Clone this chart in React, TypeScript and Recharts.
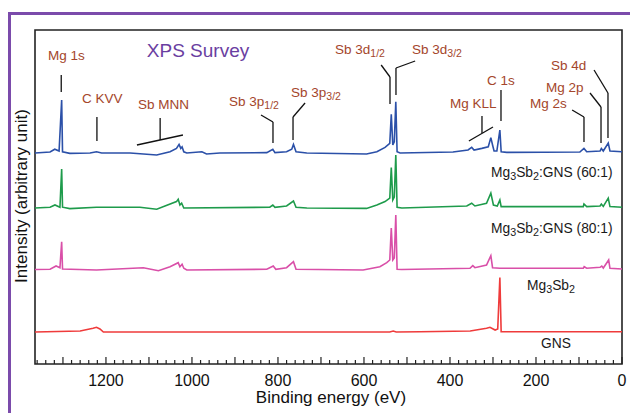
import React from "react";
import {
  LineChart,
  Line,
  XAxis,
  YAxis,
  ReferenceArea,
  ReferenceLine,
} from "recharts";

// binding energy (eV), intensity above each trace's own baseline (arb. units)
const mg3sb2Gns60: [number, number][] = [
  [1365, 0], [1330, 0.5], [1319, 1.9], [1309, 1], [1303, 26.5], [1301, 0.6], [1284, -0.2],
  [1237, 0], [1222, 0.6], [1210, 0], [1144, 0], [1082, -1], [1051, 0.6], [1036, 2.3],
  [1030, 4.3], [1026, 2.3], [1023, 3.1], [1019, 0.6], [1012, 0], [977, 0.6], [966, -0.5],
  [935, 0], [826, 0.2], [812, 1.9], [807, 0.2], [780, 0.6], [768, 1.9], [764, 4.3],
  [758, 0.6], [733, 0], [594, -0.5], [570, 0.6], [551, 2.8], [540, 4.8], [536.5, 19.3],
  [533, 4], [529.5, 5.6], [526, 25.6], [523, 0.6], [516, 0], [393, 0.5], [358, 1.5],
  [349.5, 2.8], [344, 1.5], [326, 2.3], [311, 3.1], [305, 7.7], [301, 4], [297.5, 1],
  [291, 1], [284, 11.5], [281, 0.6], [268, 0.3], [98, 0.5], [88.5, 2.3], [82, 0.6],
  [51, 1], [48, 2.3], [43.5, 1], [32, 5], [28, 1], [0, 0.6],
];

const mg3sb2Gns80: [number, number][] = [
  [1365, 0], [1330, 0.4], [1318.6, 1.5], [1307, 0.4], [1303, 19.5], [1301, 0.4], [1284, -0.3],
  [1222, 0.4], [1121, 0.4], [1082, -0.6], [1036, 3.2], [1032, 4.4], [1028, 1.5], [1024, 2.4],
  [1019, 0], [819, 0.4], [812, 1.5], [807, 0.3], [780, 1], [764, 3.5], [758, 0.4], [733, 0],
  [594, -0.2], [570, 1.5], [551, 3.2], [540, 4.9], [536.5, 20.2], [533, 4], [529.5, 5.5],
  [526, 26.5], [523, 0.4], [512, 0], [361, 1], [349.5, 2.4], [342, 1], [315, 2.4], [305, 7.4],
  [299, 1.5], [290, 1], [284, 4], [281, 0.7], [90, 0.7], [88.5, 2], [82, 0.7], [51, 1],
  [48, 2], [43.5, 0.8], [32, 4.9], [28, 0.7], [0, 0.4],
];

const mg3sb2: [number, number][] = [
  [1365, 0], [1330, 0.1], [1316, 1.75], [1307, 0.9], [1303, 13.9], [1301, 0.25], [1222, -0.25],
  [1113, 0.9], [1078, -0.6], [1051, 1.4], [1032, 3.4], [1028, 1.4], [1023, 2.6], [1019, 0.6],
  [1012, -0.25], [826, 0.1], [811, 1.75], [805, 0.1], [780, 0.9], [764, 3.9], [758, 0.1],
  [602, -0.25], [563, 1.4], [547, 3.4], [540, 4.75], [536.5, 20.75], [533, 4.75],
  [529.5, 5.75], [526, 27.25], [523, 0.1], [512, 0], [353.5, 0.6], [347, 1.9], [342, 0.9],
  [315, 2.25], [305, 6.9], [301, 0.9], [284, 0.6], [90, 0.6], [88, 1.4], [82, 0.6],
  [51, 1.1], [47, 1.75], [43.5, 0.75], [31, 4.75], [28, 0.6], [0, 0.25],
];

const gns: [number, number][] = [
  [1365, 0], [1260, 0.5], [1230, 1.85], [1222, 2.35], [1214, 1.5], [1206, 0], [540, 0],
  [532, 0.5], [525, 0], [470, 0.15], [353, 0.5], [315, 1.85], [307, 2.35], [295, 1],
  [289, 1.5], [284, 27.25], [281, 0.15], [0, 0.15],
];

// vertical offsets used to stack the traces
const offsets = { gns60: 105.5, gns80: 78, mg3sb2: 47.25, gns: 16 };

// leader lines for the peak labels: [energy, intensity] vertices
const leaders: [number, number][][] = [
  [[1304, 144.5], [1304, 136]],
  [[1221, 123.5], [1221, 111.5]],
  [[1074, 123], [1074, 112]],
  [[1128, 109.5], [1021, 114.5]],
  [[839.5, 124.5], [811.6, 121], [811.6, 110.5]],
  [[737, 130.5], [765, 123.5], [765, 112]],
  [[560, 149.5], [539.5, 143.5], [539.5, 130]],
  [[481, 151.5], [525.6, 148], [525.6, 134.5]],
  [[281.4, 137], [281.4, 121.5]],
  [[325.6, 124], [325.6, 115.5]],
  [[356, 111.5], [300, 118.5]],
  [[116, 127], [88.4, 123.5], [88.4, 111]],
  [[74.4, 135.5], [48.8, 128.5], [48.8, 110.5]],
  [[65, 147], [32.6, 135.5], [32.6, 113]],
];

const energyTicks: number[] = [];
for (let e = 0; e <= 1360; e += 20) energyTicks.push(e);

const FONT = '"Liberation Sans", Arial, sans-serif';
const PEAK = "#a4462b";

type Part = string | { sub: string };

function toRows(points: [number, number][], offset: number) {
  return points.map(([e, v]) => ({ e, v: v + offset }));
}

function rich(parts: Part[]) {
  let lowered = false;
  return parts.map((p, i) => {
    if (typeof p === "string") {
      const dy = lowered ? -3 : 0;
      lowered = false;
      return <tspan key={i} dy={dy}>{p}</tspan>;
    }
    lowered = true;
    return <tspan key={i} dy={3} fontSize="0.78em">{p.sub}</tspan>;
  });
}

function EnergyTick(props: any) {
  const { x, y, payload } = props;
  const v = payload.value as number;
  const major = v % 100 === 0;
  return (
    <g>
      <line x1={x} x2={x} y1={y} y2={y - (major ? 7 : 4)} stroke="#222" strokeWidth={1.2} />
      {v % 200 === 0 && (
        <text x={x} y={y + 22} textAnchor="middle" fontSize={16} fill="#111" fontFamily={FONT}>
          {v}
        </text>
      )}
    </g>
  );
}

export default function App() {
  const series = [
    { name: "gns60", data: toRows(mg3sb2Gns60, offsets.gns60), color: "#2b50a8" },
    { name: "gns80", data: toRows(mg3sb2Gns80, offsets.gns80), color: "#1e9b4b" },
    { name: "mg3sb2", data: toRows(mg3sb2, offsets.mg3sb2), color: "#d94fa8" },
    { name: "gns", data: toRows(gns, offsets.gns), color: "#ef3b3b" },
  ];

  return (
    <div style={{ position: "absolute", left: 0, top: 0, width: 630, height: 413, background: "#fff", overflow: "hidden" }}>
      <LineChart width={630} height={413} margin={{ top: 30, right: 8, bottom: 19, left: 35 }}>
        <XAxis
          dataKey="e"
          type="number"
          domain={[0, 1365]}
          reversed
          ticks={energyTicks}
          interval={0}
          tick={<EnergyTick />}
          tickLine={false}
          tickSize={0}
          tickMargin={0}
          axisLine={false}
          height={30}
          allowDataOverflow
        />
        <YAxis type="number" domain={[0, 167]} hide allowDataOverflow />
        <ReferenceArea x1={0} x2={1365} y1={0} y2={167} fill="none" stroke="#222" strokeWidth={1.6} strokeOpacity={1} />
        {leaders.flatMap((pts, i) =>
          pts.slice(1).map((p, j) => (
            <ReferenceLine
              key={`l${i}-${j}`}
              segment={[{ x: pts[j][0], y: pts[j][1] }, { x: p[0], y: p[1] }]}
              stroke="#111"
              strokeWidth={1.3}
              ifOverflow="visible"
            />
          ))
        )}
        {series.map((s) => (
          <Line
            key={s.name}
            data={s.data}
            dataKey="v"
            type="linear"
            stroke={s.color}
            strokeWidth={1.6}
            dot={false}
            isAnimationActive={false}
          />
        ))}
      </LineChart>

      <div style={{ position: "absolute", left: 8, top: 12, width: 630, height: 420, border: "3px solid #7b4bab", boxSizing: "border-box", pointerEvents: "none" }} />

      <svg width={630} height={413} style={{ position: "absolute", left: 0, top: 0, pointerEvents: "none" }} fontFamily={FONT}>
        <text x={198} y={57} textAnchor="middle" fontSize={19} fill="#6a3ea1">XPS Survey</text>

        <g fontSize={13.5} fill={PEAK}>
          <text x={48} y={60}>Mg 1s</text>
          <text x={82} y={102.5}>C KVV</text>
          <text x={138} y={109}>Sb MNN</text>
          <text x={229} y={106}>{rich(["Sb 3p", { sub: "1/2" }])}</text>
          <text x={291} y={96.5}>{rich(["Sb 3p", { sub: "3/2" }])}</text>
          <text x={335} y={54}>{rich(["Sb 3d", { sub: "1/2" }])}</text>
          <text x={412} y={54}>{rich(["Sb 3d", { sub: "3/2" }])}</text>
          <text x={487} y={85}>C 1s</text>
          <text x={450} y={108}>Mg KLL</text>
          <text x={530} y={107.5}>Mg 2s</text>
          <text x={546} y={91.5}>Mg 2p</text>
          <text x={551} y={70}>Sb 4d</text>
        </g>

        <g fontSize={13.8} fill="#1a1a1a">
          <text x={491} y={176.5}>{rich(["Mg", { sub: "3" }, "Sb", { sub: "2" }, ":GNS (60:1)"])}</text>
          <text x={491} y={233}>{rich(["Mg", { sub: "3" }, "Sb", { sub: "2" }, ":GNS (80:1)"])}</text>
          <text x={527} y={290}>{rich(["Mg", { sub: "3" }, "Sb", { sub: "2" }])}</text>
          <text x={541} y={348}>GNS</text>
        </g>

        <text x={331} y={403} textAnchor="middle" fontSize={17} fill="#111">Binding energy (eV)</text>
        <text x={27} y={196} textAnchor="middle" fontSize={17} fill="#111" transform="rotate(-90 27 196)">
          Intensity (arbitrary unit)
        </text>
      </svg>
    </div>
  );
}
